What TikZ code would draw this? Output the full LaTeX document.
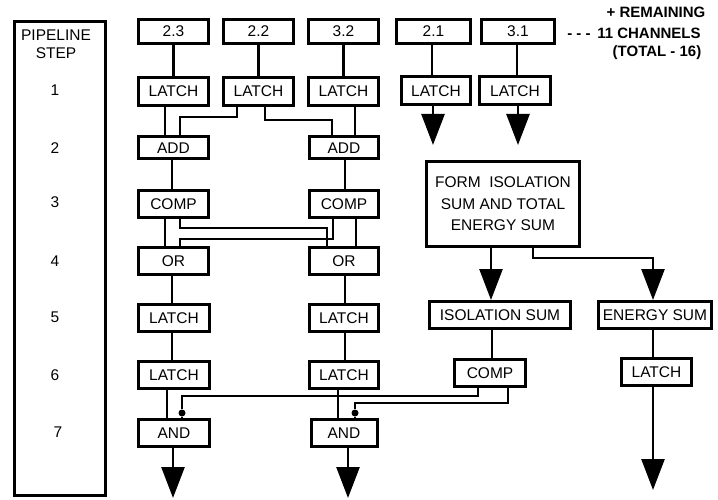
\documentclass[tikz,border=0pt]{standalone}
\usepackage{fontspec}
\setmainfont{Liberation Sans}
\usetikzlibrary{arrows.meta}
\begin{document}
\begin{tikzpicture}[x=1pt,y=-1pt,
  box/.style={draw,line width=3pt,inner sep=0pt,font=\fontsize{15.5}{18}\selectfont},
  wire/.style={line width=2.6pt},
  arr/.style={wire,-{Triangle[length=31pt,width=23pt]}},
  dot/.style={circle,fill,inner sep=0pt,minimum size=7pt},
  lbl/.style={font=\fontsize{15.5}{18}\selectfont},
  blbl/.style={font=\bfseries\fontsize{15}{18}\selectfont}]
\useasboundingbox (0,0) rectangle (718,500);

% left panel
\node[draw,line width=3pt,minimum width=91pt,minimum height=474pt,inner sep=0pt] (panel) at (60,258.5) {};
\node[lbl] (t1) at (56,35) {PIPELINE};
\node[lbl] (t2) at (56,53) {STEP};
\node[lbl] (s1) at (55,90) {1};
\node[lbl] (s2) at (55,148) {2};
\node[lbl] (s3) at (55,202) {3};
\node[lbl] (s4) at (55,261) {4};
\node[lbl] (s5) at (55,317) {5};
\node[lbl] (s6) at (55,375) {6};
\node[lbl] (s7) at (58,432) {7};

% top boxes
\node[box,minimum width=70pt,minimum height=24pt] (B23) at (173.5,31.5) {2.3};
\node[box,minimum width=70pt,minimum height=24pt] (B22) at (258.5,31.5) {2.2};
\node[box,minimum width=70pt,minimum height=24pt] (B32) at (343.5,31.5) {3.2};
\node[box,minimum width=74pt,minimum height=24pt] (B21) at (433.5,31.5) {2.1};
\node[box,minimum width=73pt,minimum height=24pt] (B31) at (518,31.5) {3.1};
\node[blbl] (dash) at (579,36) {- - -};
\node[blbl] (r1) at (656,12) {+ REMAINING};
\node[blbl] (r2) at (649,33) {11 CHANNELS};
\node[blbl] (r3) at (657,53) {(TOTAL - 16)};

% row 1 latches
\node[box,minimum width=70pt,minimum height=28pt] (L1) at (173.5,91.5) {LATCH};
\node[box,minimum width=70pt,minimum height=28pt] (L2) at (258.5,91.5) {LATCH};
\node[box,minimum width=70pt,minimum height=28pt] (L3) at (343.5,91.5) {LATCH};
\node[box,minimum width=69pt,minimum height=28pt] (L4) at (436,91) {LATCH};
\node[box,minimum width=71pt,minimum height=28pt] (L5) at (515,91) {LATCH};

% column boxes
\node[box,minimum width=70pt,minimum height=22pt] (A1) at (173.5,148) {ADD};
\node[box,minimum width=69pt,minimum height=22pt] (A2) at (344,148) {ADD};
\node[box,minimum width=70pt,minimum height=27pt] (C1) at (173.5,204) {COMP};
\node[box,minimum width=69pt,minimum height=27pt] (C2) at (344,204) {COMP};
\node[box,minimum width=70pt,minimum height=27pt] (O1) at (173.5,261) {OR};
\node[box,minimum width=69pt,minimum height=27pt] (O2) at (344,261) {OR};
\node[box,minimum width=71pt,minimum height=27pt] (M1) at (174,318) {LATCH};
\node[box,minimum width=69pt,minimum height=27pt] (M2) at (344,318) {LATCH};
\node[box,minimum width=71pt,minimum height=27pt] (N1) at (174,375) {LATCH};
\node[box,minimum width=69pt,minimum height=27pt] (N2) at (344,375) {LATCH};
\node[box,minimum width=71pt,minimum height=27pt] (D1) at (174,433) {AND};
\node[box,minimum width=66pt,minimum height=27pt] (D2) at (344,433) {AND};

% right part
\node[box,minimum width=153pt,minimum height=85pt,align=center,
      font=\fontsize{15.5}{21.5}\selectfont] (F) at (503,204)
      {FORM\ \ ISOLATION\\SUM AND TOTAL\\ENERGY SUM};
\node[box,minimum width=141pt,minimum height=27pt] (ISO) at (500,315) {ISOLATION SUM};
\node[box,minimum width=113pt,minimum height=27pt] (ES) at (655,315) {ENERGY SUM};
\node[box,minimum width=71pt,minimum height=27pt] (C3) at (490,373) {COMP};
\node[box,minimum width=70pt,minimum height=27pt] (LE) at (656.5,372) {LATCH};

% free ends
\coordinate (e1) at (433,145);
\coordinate (e2) at (518,145);
\coordinate (e3) at (173,498);
\coordinate (e4) at (348,498);
\coordinate (e5) at (653,490);

% connectors top
\draw[wire] (B23) -- (L1);
\draw[wire] (B22) -- (L2);
\draw[wire] (B32) -- (L3);
\draw[wire] (B21.south -| 432,0) -- (L4.north -| 432,0);
\draw[wire] (B31.south -| 517,0) -- (L5.north -| 517,0);
\draw[arr] (L4.south -| 433,0) -- (e1);
\draw[arr] (L5.south -| 518,0) -- (e2);

% latch to add
\draw[wire] (L1.south -| 165,0) -- (A1.north -| 165,0);
\draw[wire] (L2.south -| 237,0) -- (237,117) -| (A1.north -| 180,0);
\draw[wire] (L2.south -| 265,0) -- (265,120) -| (A2.north -| 332,0);
\draw[wire] (L3.south -| 355,0) -- (A2.north -| 355,0);

% add to comp
\draw[wire] (A1.south -| 172,0) -- (C1.north -| 172,0);
\draw[wire] (A2.south -| 345,0) -- (C2.north -| 345,0);

% comp to or
\draw[wire] (C1.south -| 165,0) -- (O1.north -| 165,0);
\draw[wire] (C1.south -| 180,0) -- (180,228) -| (O2.north -| 327,0);
\draw[wire] (C2.south -| 333,0) -- (333,239) -| (O1.north -| 180,0);
\draw[wire] (C2.south -| 356,0) -- (O2.north -| 356,0);

% lower column
\draw[wire] (O1.south -| 172,0) -- (M1.north -| 172,0);
\draw[wire] (O2.south -| 345,0) -- (M2.north -| 345,0);
\draw[wire] (M1.south -| 172,0) -- (N1.north -| 172,0);
\draw[wire] (M2.south -| 345,0) -- (N2.north -| 345,0);
\draw[wire] (N1.south -| 167,0) -- (D1.north -| 167,0);
\draw[wire] (N2.south -| 338,0) -- (D2.north -| 338,0);
\draw[arr] (D1.south -| 173,0) -- (e3);
\draw[arr] (D2.south -| 348,0) -- (e4);

% form box outputs
\draw[arr] (F.south -| 491,0) -- (ISO.north -| 491,0);
\draw[arr] (F.south -| 533,0) -- (533,258) -| (ES.north -| 653,0);
\draw[wire] (ISO.south -| 492,0) -- (C3.north -| 492,0);
\draw[wire] (ES.south -| 653,0) -- (LE.north -| 653,0);
\draw[arr] (LE.south -| 653,0) -- (e5);

% comp to ands
\node[dot] (d1) at (182,413) {};
\node[dot] (d2) at (355,413) {};
\draw[wire] (C3.south -| 478,0) -- (478,396) -| (d1) -- (D1.north -| 182,0);
\draw[wire] (C3.south -| 508,0) -- (508,403) -| (d2) -- (D2.north -| 355,0);
\end{tikzpicture}
\end{document}
